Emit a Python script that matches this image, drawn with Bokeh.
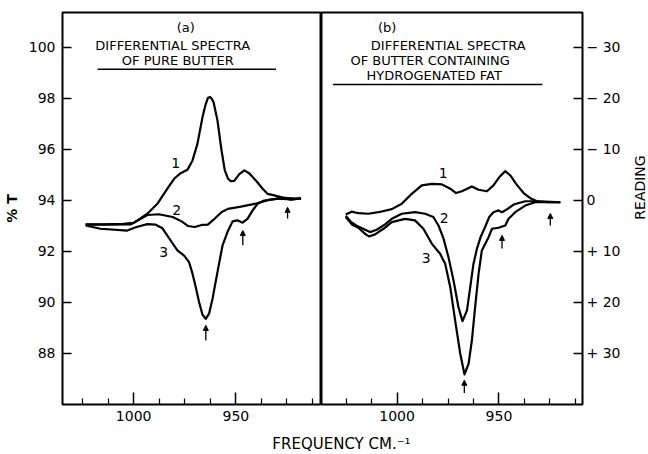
import math
from bokeh.plotting import figure
from bokeh.models import Range1d, LinearAxis, FixedTicker, Label, Arrow, NormalHead
from bokeh.layouts import row, column
from bokeh.embed import file_html
from bokeh.resources import INLINE

FONT = "DejaVu Sans"

# ---------------- data: panel (a) pure butter ----------------
a1_freq = [1023.5, 1014.6, 1005.0, 999.9, 993.3, 988.4, 983.5, 980.2, 977.0, 973.7, 971.2,
           968.8, 966.3, 964.7, 963.6, 962.6, 961.7, 960.9, 959.0, 957.0, 955.4, 953.8,
           952.5, 950.8, 948.4, 945.9, 943.5, 940.2, 936.9, 934.5, 931.2, 927.9, 923.0, 918.1]
a1_T = [93.06, 93.06, 93.08, 93.12, 93.48, 93.87, 94.46, 94.85, 95.07, 95.20, 95.57,
        96.22, 97.27, 97.79, 98.03, 98.06, 97.98, 97.85, 97.14, 95.96, 95.18, 94.85,
        94.76, 94.77, 95.02, 95.18, 95.07, 94.78, 94.46, 94.26, 94.20, 94.13, 94.03, 94.09]

a2_freq = [1023.5, 1001.5, 993.3, 987.7, 980.9, 976.5, 973.5, 970.1, 966.7, 963.7, 960.3,
           956.9, 953.9, 947.5, 940.2, 933.8, 926.5, 918.1]
a2_T = [93.05, 93.06, 93.43, 93.46, 93.35, 93.18, 93.00, 92.96, 93.04, 93.05, 93.29,
        93.55, 93.67, 93.76, 93.88, 94.02, 94.10, 94.06]

a3_freq = [1023.5, 1016.2, 1003.1, 999.0, 993.3, 989.2, 985.9, 981.9, 978.6, 975.3, 972.9,
           971.2, 969.6, 968.0, 966.3, 964.7, 963.1, 961.4, 959.0, 956.5, 954.1, 951.6,
           949.2, 946.7, 944.3, 941.8, 939.4, 936.1, 929.6, 923.0, 918.1]
a3_T = [93.02, 92.89, 92.82, 92.95, 93.07, 93.05, 92.91, 92.43, 92.04, 91.84, 91.58,
        91.13, 90.60, 90.02, 89.52, 89.36, 89.56, 90.15, 91.19, 92.24, 92.76, 93.18,
        93.22, 93.13, 93.28, 93.61, 93.87, 94.00, 94.07, 94.04, 94.07]

# ---------------- data: panel (b) butter + hydrogenated fat ----------------
b1_freq = [1025.2, 1022.3, 1019.0, 1014.1, 1009.2, 1002.6, 997.7, 992.8, 987.9, 982.9, 978.0,
           973.9, 971.1, 968.2, 963.3, 960.0, 955.9, 952.7, 949.9, 946.9, 944.4, 941.6,
           937.9, 934.6, 931.3, 925.6, 919.9]
b1_T = [93.45, 93.56, 93.50, 93.48, 93.54, 93.66, 93.87, 94.26, 94.59, 94.65, 94.63,
        94.46, 94.29, 94.36, 94.55, 94.42, 94.36, 94.59, 94.91, 95.15, 94.98, 94.65,
        94.29, 94.09, 93.97, 93.93, 93.93]

b2_freq = [1025.2, 1022.5, 1019.8, 1015.7, 1013.3, 1010.0, 1005.9, 1002.6, 997.7, 991.2, 986.2,
           982.2, 979.7, 977.2, 974.8, 972.3, 969.9, 967.9, 965.7, 964.1, 962.5, 960.8,
           958.9, 956.7, 954.8, 952.7, 950.2, 948.5, 946.1, 942.8, 937.1, 932.2, 927.2, 919.9]
b2_T = [93.40, 93.15, 93.01, 92.85, 92.76, 92.85, 93.06, 93.28, 93.48, 93.54, 93.48,
        93.35, 93.02, 92.50, 91.78, 90.86, 89.82, 89.27, 89.69, 90.60, 91.52, 92.11,
        92.59, 92.98, 93.35, 93.54, 93.61, 93.54, 93.65, 93.84, 93.97, 93.97, 93.96, 93.93]

b3_freq = [1025.2, 1022.0, 1019.0, 1015.7, 1013.8, 1010.8, 1006.7, 1002.6, 996.1, 991.2, 987.1,
           982.9, 978.9, 976.4, 973.9, 971.5, 969.0, 966.9, 964.9, 963.3, 961.7, 960.0,
           958.4, 955.1, 953.4, 950.2, 946.9, 945.3, 942.0, 937.1, 932.2, 919.9]
b3_T = [93.35, 93.05, 92.93, 92.69, 92.59, 92.67, 92.89, 93.15, 93.28, 93.22, 92.89,
        92.30, 91.91, 91.52, 90.60, 89.29, 87.99, 87.18, 87.60, 88.51, 89.82, 91.13,
        92.04, 92.56, 92.89, 92.93, 93.02, 93.28, 93.54, 93.80, 93.93, 93.93]

# arrows marking bands: frequency, tail %T, tip %T
a_arrow_freq = [924.7, 946.6, 964.7]
a_arrow_tail = [93.29, 92.24, 88.51]
a_arrow_tip = [93.73, 92.82, 89.10]
b_arrow_freq = [924.8, 948.5, 967.0]
b_arrow_tail = [93.02, 92.12, 86.45]
b_arrow_tip = [93.49, 92.63, 86.95]

# ticks
pct_ticks = [88, 90, 92, 94, 96, 98, 100]
freq_major_ticks = [1000, 950]
freq_minor_ticks = [1025, 1012.5, 987.5, 975, 962.5, 937.5, 925, 912.5]
reading_ticks = [-30, -20, -10, 0, 10, 20, 30]
reading_labels = ["\u2212 30", "\u2212 20", "\u2212 10", "0", "+ 10", "+ 20", "+ 30"]

T_MIN, T_MAX = 86.0, 101.37


def style_common(p):
    p.grid.visible = False
    p.outline_line_color = "black"
    p.outline_line_width = 2
    p.background_fill_color = "white"
    p.border_fill_color = "white"


def style_axis(ax):
    ax.axis_line_color = None
    ax.major_tick_line_color = "black"
    ax.major_tick_line_width = 1.5
    ax.minor_tick_line_color = "black"
    ax.minor_tick_line_width = 1.2
    ax.major_tick_out = 0
    ax.minor_tick_out = 0
    ax.major_label_text_font = FONT
    ax.major_label_text_font_size = "14px"
    ax.major_label_text_color = "black"


def style_xaxis(p):
    ax = p.xaxis[0]
    style_axis(ax)
    ax.ticker = FixedTicker(ticks=freq_major_ticks, minor_ticks=freq_minor_ticks)
    ax.major_tick_in = 12
    ax.minor_tick_in = 6
    ax.major_label_standoff = 6


def add_text(p, x, y, text, size="13px", align="center"):
    p.add_layout(Label(x=x, y=y, text=text, text_align=align, text_baseline="middle",
                       text_font=FONT, text_font_size=size, text_color="black"))


def add_arrows(p, freq, tail, tip):
    for f, t0, t1 in zip(freq, tail, tip):
        p.add_layout(Arrow(x_start=f, y_start=t0, x_end=f, y_end=t1, line_width=1.3,
                           line_color="black",
                           end=NormalHead(size=5, fill_color="black", line_color="black")))


TOP_H = 12 + 392 + 24

# ---------------- panel (a) ----------------
pa = figure(frame_width=259, frame_height=392,
            x_range=Range1d(1034.8, 908.1), y_range=Range1d(T_MIN, T_MAX),
            output_backend="svg", toolbar_location=None,
            min_border_left=62, min_border_right=0, min_border_top=12, min_border_bottom=24)
style_common(pa)
style_xaxis(pa)
ya = pa.yaxis[0]
style_axis(ya)
ya.ticker = FixedTicker(ticks=pct_ticks)
ya.major_tick_in = 9
ya.major_label_standoff = 7
ya.axis_label = "% T"
ya.axis_label_text_font = FONT
ya.axis_label_text_font_size = "14px"
ya.axis_label_text_font_style = "bold"
ya.axis_label_text_color = "black"
ya.axis_label_standoff = 6

for fx, ty in [(a1_freq, a1_T), (a2_freq, a2_T), (a3_freq, a3_T)]:
    pa.line(fx, ty, line_width=2.2, line_color="black", line_join="round")
add_arrows(pa, a_arrow_freq, a_arrow_tail, a_arrow_tip)

add_text(pa, 974.5, 100.78, "(a)", "13px")
add_text(pa, 980.9, 100.08, "DIFFERENTIAL SPECTRA", "13px")
add_text(pa, 978.4, 99.49, "OF PURE BUTTER", "13px")
pa.segment(x0=[1017.6], y0=[99.14], x1=[930.4], y1=[99.14], line_width=1.5, line_color="black")
add_text(pa, 979.4, 95.45, "1", "14px")
add_text(pa, 978.9, 93.61, "2", "14px")
add_text(pa, 985.3, 91.96, "3", "14px")

# ---------------- panel (b) ----------------
pb = figure(frame_width=261, frame_height=392,
            x_range=Range1d(1037.1, 909.0), y_range=Range1d(T_MIN, T_MAX),
            y_axis_location=None,
            output_backend="svg", toolbar_location=None,
            min_border_left=0, min_border_right=50, min_border_top=12, min_border_bottom=24)
pb.extra_y_ranges = {"reading": Range1d(start=(94 - T_MIN) * 5, end=(94 - T_MAX) * 5)}
style_common(pb)
style_xaxis(pb)
yr = LinearAxis(y_range_name="reading")
style_axis(yr)
yr.ticker = FixedTicker(ticks=reading_ticks)
yr.major_label_overrides = {t: lab for t, lab in zip(reading_ticks, reading_labels)}
yr.major_tick_in = 9
yr.major_label_standoff = 4
pb.add_layout(yr, "right")

for fx, ty in [(b1_freq, b1_T), (b2_freq, b2_T), (b3_freq, b3_T)]:
    pb.line(fx, ty, line_width=2.2, line_color="black", line_join="round")
add_arrows(pb, b_arrow_freq, b_arrow_tail, b_arrow_tip)

add_text(pb, 1004.9, 100.78, "(b)", "13px")
add_text(pb, 974.9, 100.08, "DIFFERENTIAL SPECTRA", "13px")
add_text(pb, 983.8, 99.49, "OF BUTTER CONTAINING", "13px")
add_text(pb, 981.8, 98.90, "HYDROGENATED FAT", "13px")
pb.segment(x0=[1031.5], y0=[98.55], x1=[928.7], y1=[98.55], line_width=1.5, line_color="black")
add_text(pb, 977.4, 95.06, "1", "14px")
add_text(pb, 976.9, 93.30, "2", "14px")
add_text(pb, 985.7, 91.73, "3", "14px")

# ---------------- right-hand title strip: "READING" (bottom-to-top) ----------------
pr = figure(width=15, height=TOP_H, x_range=Range1d(0, 15), y_range=Range1d(0, TOP_H),
            x_axis_location=None, y_axis_location=None, toolbar_location=None,
            output_backend="svg", min_border=0)
pr.grid.visible = False
pr.outline_line_color = None
pr.add_layout(Label(x=7, y=TOP_H - 211, x_units="screen", y_units="screen", text="READING",
                    angle=math.pi / 2, text_align="center", text_baseline="middle",
                    text_font=FONT, text_font_size="14px", text_color="black"))

# ---------------- shared x label ----------------
pl = figure(width=646, height=25, x_range=Range1d(0, 646), y_range=Range1d(0, 25),
            x_axis_location=None, y_axis_location=None, toolbar_location=None,
            output_backend="svg", min_border=0)
pl.grid.visible = False
pl.outline_line_color = None
pl.add_layout(Label(x=341, y=10, x_units="screen", y_units="screen",
                    text="FREQUENCY CM.\u207b\u00b9", text_align="center",
                    text_baseline="middle", text_font=FONT, text_font_size="15px",
                    text_color="black"))

layout = column(row(pa, pb, pr), pl)
open("out.html", "w").write(file_html(layout, INLINE))
